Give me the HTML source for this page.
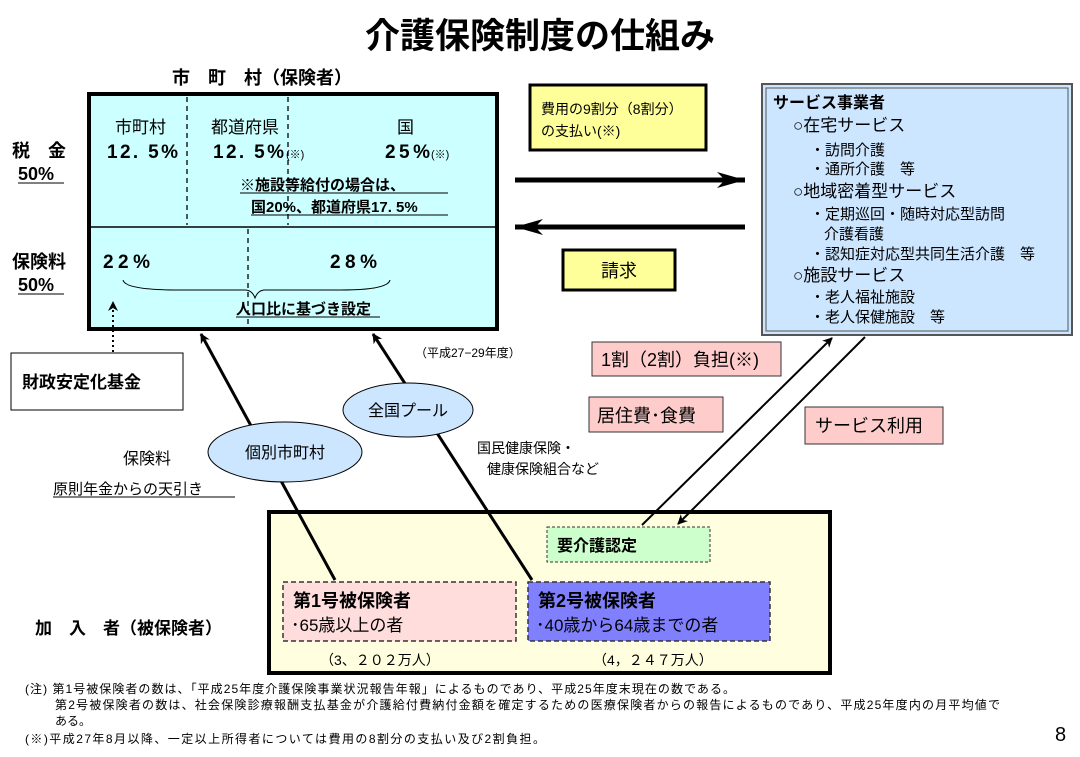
<!DOCTYPE html>
<html><head><meta charset="utf-8"><style>
body{margin:0;background:#fff}
svg{display:block}
text{font-family:"Liberation Sans","Noto Sans CJK JP",sans-serif;fill:#000}
.b{font-weight:bold}
</style></head><body>
<svg width="1080" height="757" viewBox="0 0 1080 757" xmlns="http://www.w3.org/2000/svg">
<defs>
<marker id="ah" markerWidth="10" markerHeight="10" refX="9" refY="5" orient="auto" markerUnits="userSpaceOnUse"><path d="M0,0 L10,5 L0,10 L3,5 Z" fill="#000"/></marker>
<marker id="big" markerWidth="30" markerHeight="20" refX="28" refY="8" orient="auto" markerUnits="userSpaceOnUse"><path d="M0,0 L28,8 L0,16 L8,8 Z" fill="#000"/></marker>
</defs>
<text x="540" y="48" text-anchor="middle" class="b" font-size="35">介護保険制度の仕組み</text>
<text x="262" y="84" text-anchor="middle" class="b" font-size="18">市　町　村（保険者）</text>
<rect x="89" y="94" width="408" height="235" fill="#ccffff" stroke="#000" stroke-width="4"/>
<line x1="89" y1="227" x2="497" y2="227" stroke="#000" stroke-width="1.5"/>
<g stroke="#000" stroke-dasharray="5,4" stroke-width="1.3">
<line x1="187" y1="97" x2="187" y2="225"/><line x1="288" y1="97" x2="288" y2="225"/><line x1="248" y1="229" x2="248" y2="327"/>
</g>
<g font-size="17">
<text x="115" y="133">市町村</text><text x="211" y="133">都道府県</text><text x="397" y="133">国</text>
<text x="107" y="158" class="b" font-size="19" textLength="71">12. 5%</text><text x="213" y="158" class="b" font-size="19" textLength="71">12. 5%</text><text x="286" y="158" font-size="11">(※)</text>
<text x="385" y="158" class="b" font-size="19" textLength="45">25%</text><text x="431" y="158" font-size="11">(※)</text>
<text x="240" y="190" class="b" font-size="15">※施設等給付の場合は、</text>
<text x="251" y="212" class="b" font-size="15">国20%、都道府県17. 5%</text>
<text x="103" y="268" class="b" font-size="19" textLength="47">22%</text><text x="330" y="268" class="b" font-size="19" textLength="47">28%</text>
<text x="236" y="314" class="b" font-size="15">人口比に基づき設定</text>
</g>
<line x1="240" y1="193" x2="448" y2="193" stroke="#000"/><line x1="251" y1="215" x2="448" y2="215" stroke="#000"/>
<line x1="236" y1="317" x2="380" y2="317" stroke="#000"/>
<path d="M123,280 Q125,290 180,290 L245,290 Q252,290 255,298 Q258,290 265,290 L340,290 Q388,290 390,280" fill="none" stroke="#000" stroke-width="1"/>
<g font-size="18" class="b">
<text x="12" y="157" class="b">税　金</text><text x="18" y="180" class="b">50%</text>
<text x="12" y="268" class="b">保険料</text><text x="18" y="291" class="b">50%</text>
</g>
<line x1="18" y1="183" x2="64" y2="183" stroke="#000"/><line x1="18" y1="294" x2="64" y2="294" stroke="#000"/>
<line x1="113" y1="352" x2="113" y2="302" stroke="#000" stroke-width="2" stroke-dasharray="2,3" marker-end="url(#ah)"/>
<rect x="11" y="353" width="172" height="57" fill="#fff" stroke="#000"/>
<text x="22" y="388" class="b" font-size="17">財政安定化基金</text>
<rect x="530" y="85" width="176" height="65" fill="#ffff99" stroke="#000" stroke-width="3" />
<text x="541" y="114" font-size="14">費用の9割分（8割分）</text><text x="541" y="136" font-size="14">の支払い(※)</text>
<line x1="515" y1="180" x2="745" y2="180" stroke="#000" stroke-width="5" marker-end="url(#big)"/>
<line x1="745" y1="227" x2="515" y2="227" stroke="#000" stroke-width="5" marker-end="url(#big)"/>
<rect x="563" y="250" width="112" height="40" fill="#ffff99" stroke="#000" stroke-width="3"/>
<text x="619" y="277" text-anchor="middle" font-size="18">請求</text>
<rect x="762" y="84" width="310" height="251" fill="#cce6ff" stroke="#555" stroke-width="2"/>
<rect x="766" y="88" width="302" height="243" fill="none" stroke="#555" stroke-width="1"/>
<g font-size="15">
<text x="773" y="108" class="b" font-size="16">サービス事業者</text>
<text x="793" y="131" font-size="17">○在宅サービス</text>
<text x="810" y="155">・訪問介護</text>
<text x="810" y="174">・通所介護　等</text>
<text x="793" y="197" font-size="17">○地域密着型サービス</text>
<text x="810" y="219">・定期巡回・随時対応型訪問</text>
<text x="824" y="239">介護看護</text>
<text x="810" y="259">・認知症対応型共同生活介護　等</text>
<text x="793" y="281" font-size="17">○施設サービス</text>
<text x="810" y="302">・老人福祉施設</text>
<text x="810" y="322">・老人保健施設　等</text>
</g>
<rect x="592" y="342" width="189" height="34" fill="#ffcccc" stroke="#333"/>
<text x="601" y="366" font-size="18">1割（2割）負担(※)</text>
<rect x="589" y="397" width="134" height="35" fill="#ffcccc" stroke="#333"/>
<text x="597" y="422" font-size="18">居住費･食費</text>
<rect x="805" y="407" width="138" height="37" fill="#ffcccc" stroke="#333"/>
<text x="815" y="432" font-size="18">サービス利用</text>
<rect x="269" y="512" width="561" height="161" fill="#ffffe0" stroke="#000" stroke-width="4"/>
<line x1="642" y1="525" x2="832" y2="338" stroke="#000" stroke-width="2" marker-end="url(#ah)"/>
<line x1="865" y1="337" x2="678" y2="524" stroke="#000" stroke-width="2" marker-end="url(#ah)"/>
<rect x="547" y="527" width="163" height="35" fill="#ccffcc" stroke="#333" stroke-dasharray="3,2"/>
<text x="557" y="551" class="b" font-size="16">要介護認定</text>
<rect x="283" y="582" width="233" height="59" fill="#ffdddd" stroke="#333" stroke-width="1.5" stroke-dasharray="5,3"/>
<text x="293" y="607" class="b" font-size="18">第1号被保険者</text>
<text x="291" y="631" font-size="17">･65歳以上の者</text>
<rect x="528" y="582" width="242" height="59" fill="#8080ff" stroke="#333" stroke-width="1.5" stroke-dasharray="5,3"/>
<text x="538" y="607" class="b" font-size="18">第2号被保険者</text>
<text x="536" y="631" font-size="17">･40歳から64歳までの者</text>
<text x="320" y="665" font-size="14">（3、２０２万人）</text>
<text x="593" y="665" font-size="14">（4，２４７万人）</text>
<text x="35" y="634" class="b" font-size="17">加　入　者（被保険者）</text>
<line x1="335" y1="580" x2="201" y2="334" stroke="#000" stroke-width="3" marker-end="url(#ah)"/>
<line x1="532" y1="580" x2="373" y2="334" stroke="#000" stroke-width="3" marker-end="url(#ah)"/>
<ellipse cx="285" cy="452" rx="77" ry="30" fill="#cce6ff" stroke="#000"/>
<text x="285" y="458" text-anchor="middle" font-size="16">個別市町村</text>
<ellipse cx="408" cy="410" rx="65" ry="27" fill="#cce6ff" stroke="#000"/>
<text x="408" y="416" text-anchor="middle" font-size="16">全国プール</text>
<text x="123" y="464" font-size="16">保険料</text>
<text x="53" y="494" font-size="15">原則年金からの天引き</text>
<line x1="53" y1="497" x2="235" y2="497" stroke="#000"/>
<text x="415" y="357" font-size="12">（平成27−29年度）</text>
<text x="477" y="453" font-size="14">国民健康保険・</text>
<text x="487" y="474" font-size="14">健康保険組合など</text>
<g font-size="12">
<text x="25" y="693" textLength="710">(注) 第1号被保険者の数は、「平成25年度介護保険事業状況報告年報」によるものであり、平成25年度末現在の数である。</text>
<text x="55" y="709" textLength="945">第2号被保険者の数は、社会保険診療報酬支払基金が介護給付費納付金額を確定するための医療保険者からの報告によるものであり、平成25年度内の月平均値で</text>
<text x="55" y="725">ある。</text>
<text x="25" y="743" textLength="520">(※)平成27年8月以降、一定以上所得者については費用の8割分の支払い及び2割負担。</text>
</g>
<text x="1055" y="741" font-size="20">8</text>
</svg>
</body></html>
